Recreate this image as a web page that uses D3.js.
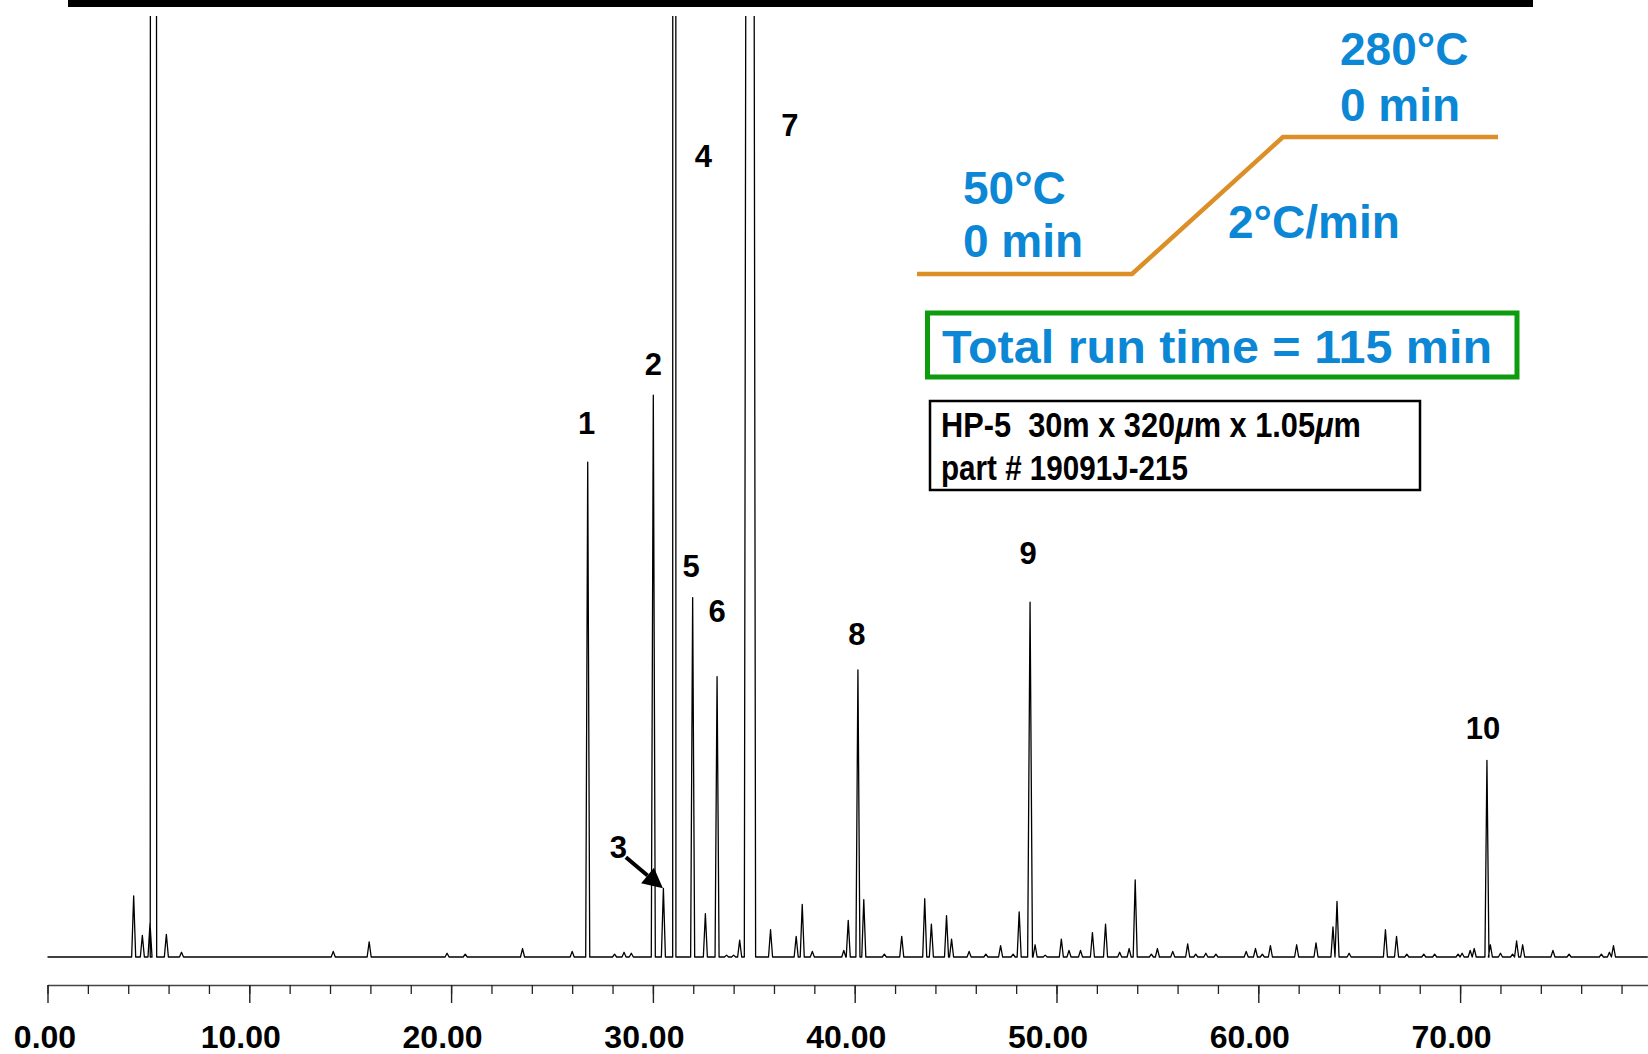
<!DOCTYPE html>
<html>
<head>
<meta charset="utf-8">
<script src="https://cdn.jsdelivr.net/npm/d3@7"></script>
<style>
  html, body { margin: 0; padding: 0; background: #fff; }
  svg { display: block; }
</style>
</head>
<body>
<svg id="chart" width="1648" height="1054"></svg>
<script>
// Chromatogram data: retention time (min), abundance (1000 = top of frame)

// numbered peaks that stay on scale
const labelNames   = ['1', '2', '3', '5', '6', '8', '9', '10'];
const labelTimes   = [26.77, 30.02, 30.52, 31.97, 33.18, 40.16, 48.69, 71.33];
const labelHeights = [526, 597, 73, 382, 298, 305, 377, 209];

// off-scale peaks: solvent, 4, 7
const bigNames   = ['', '4', '7'];
const bigTimes   = [5.25, 31.06, 34.81];
const bigHeights = [20000, 20000, 4000];
const bigWidths  = [0.16, 0.08, 0.28];

// small unlabeled peaks
const minorTimes = [4.27, 4.70, 5.08, 5.89, 6.64, 14.16, 15.94, 19.80, 20.70, 23.54,
  26.00, 28.10, 28.57, 28.93, 32.60, 33.65, 34.00, 34.30, 35.83, 37.10,
  37.40, 37.90, 39.46, 39.68, 40.45, 41.47, 42.33, 43.47, 43.80, 44.55,
  44.80, 45.67, 46.50, 47.23, 47.85, 48.15, 48.94, 49.44, 50.24, 50.62,
  51.19, 51.78, 52.43, 53.13, 53.60, 53.90, 54.70, 55.00, 55.76, 56.50,
  56.90, 57.40, 57.90, 59.40, 59.86, 60.20, 60.60, 61.90, 62.86, 63.70,
  63.90, 64.50, 66.30, 66.85, 67.36, 68.20, 68.74, 69.90, 70.10, 70.50,
  70.70, 71.50, 72.00, 72.60, 72.80, 73.10, 74.60, 75.40, 77.00, 77.40, 77.60];
const minorHeights = [65, 23, 36, 24, 5, 6, 16, 4, 3, 9,
  6, 3, 5, 4, 46, 2, 2, 18, 29, 22,
  56, 6, 7, 39, 61, 3, 22, 62, 35, 44,
  19, 6, 3, 12, 3, 48, 13, 2, 19, 7,
  7, 26, 35, 5, 9, 82, 3, 9, 6, 14,
  3, 4, 3, 6, 9, 3, 12, 13, 15, 32,
  59, 4, 29, 22, 3, 3, 3, 3, 4, 7,
  9, 13, 4, 3, 17, 13, 7, 3, 3, 5, 12];

const majorTicks = [0, 10, 20, 30, 40, 50, 60, 70];
const minorTicks = d3.range(0, 80, 2);

const tempText = [['50\u00B0C', '0 min'], ['280\u00B0C', '0 min'], ['2\u00B0C/min']];
const runTimeText = 'Total run time = 115 min';
const columnText = ['HP-5\u00A0\u00A030m x 320', 'm x 1.05', 'm'];
const partText = 'part # 19091J-215';

// layout of peak labels: [dx from peak, dy above peak top]
const labelLayout = {
  '1': [-1, 28], '2': [0, 20], '3': [-45, 30], '5': [-1.5, 21],
  '6': [0, 55], '8': [-1, 25], '9': [-2, 38], '10': [-4, 21]
};
// off-scale labels: [dx from peak, dy below frame top]
const bigLayout = { '4': [29, 151], '7': [40, 120] };

const svg = d3.select('#chart');
const W = 1648, H = 1054;

const x = d3.scaleLinear().domain([0, 79.3]).range([47.5, 47.5 + 79.3 * 20.18]);
const y = d3.scaleLinear().domain([0, 1000]).range([957, 16]);

// top bar
svg.append('rect').attr('x', 68).attr('y', 0).attr('width', 1465).attr('height', 7).attr('fill', '#000');

// build trace
let peaks = [];
labelTimes.forEach((t, i) => peaks.push({ t: t, h: labelHeights[i], w: labelNames[i] === '9' ? 0.12 : 0.1 }));
bigTimes.forEach((t, i) => peaks.push({ t: t, h: bigHeights[i], w: bigWidths[i] }));
minorTimes.forEach((t, i) => peaks.push({ t: t, h: minorHeights[i], w: 0.1 }));
peaks.sort((a, b) => a.t - b.t);

let pts = [[0, 0]];
peaks.forEach(p => {
  pts.push([p.t - p.w, 0]);
  pts.push([p.t, p.h]);
  pts.push([p.t + p.w, 0]);
});
pts.push([79.3, 0]);

svg.append('clipPath').attr('id', 'clip')
  .append('rect').attr('x', 0).attr('y', y(1000)).attr('width', W).attr('height', y(0) - y(1000) + 10);

const line = d3.line().x(d => x(d[0])).y(d => y(d[1]));

svg.append('path')
  .datum(pts)
  .attr('clip-path', 'url(#clip)')
  .attr('fill', 'none')
  .attr('stroke', '#000')
  .attr('stroke-width', 1.3)
  .attr('stroke-linejoin', 'round')
  .attr('d', line);

// axis
const axisY = 985;
const gMinor = svg.append('g').attr('transform', 'translate(0,' + axisY + ')')
  .call(d3.axisBottom(x).tickValues(minorTicks).tickSize(9).tickSizeOuter(0).tickFormat(''));
gMinor.select('.domain').attr('stroke', '#444').attr('stroke-width', 1.6);
gMinor.selectAll('.tick line').attr('stroke', '#222').attr('stroke-width', 1.3);

const gMajor = svg.append('g').attr('transform', 'translate(0,' + axisY + ')')
  .call(d3.axisBottom(x).tickValues(majorTicks).tickSize(18).tickFormat(d3.format('.2f')));
gMajor.select('.domain').remove();
gMajor.selectAll('.tick line').attr('stroke', '#222').attr('stroke-width', 1.4);
gMajor.selectAll('.tick text')
  .attr('y', 63).attr('dy', null)
  .attr('x', d => d === 0 ? -3 : -9)
  .attr('fill', '#000')
  .style('font-family', '"Liberation Sans", Arial, sans-serif')
  .style('font-weight', 'bold')
  .style('font-size', '32px');

// peak labels
const labelFont = '"Liberation Sans", Arial, sans-serif';
labelNames.forEach((n, i) => {
  const off = labelLayout[n];
  svg.append('text')
    .attr('x', x(labelTimes[i]) + off[0])
    .attr('y', y(labelHeights[i]) - off[1])
    .attr('text-anchor', 'middle')
    .style('font-family', labelFont).style('font-weight', 'bold').style('font-size', '31px')
    .text(n);
});
bigNames.forEach((n, i) => {
  if (!n) return;
  const off = bigLayout[n];
  svg.append('text')
    .attr('x', x(bigTimes[i]) + off[0])
    .attr('y', y(1000) + off[1])
    .attr('text-anchor', 'middle')
    .style('font-family', labelFont).style('font-weight', 'bold').style('font-size', '31px')
    .text(n);
});

// arrow to peak 3
const i3 = labelNames.indexOf('3');
const tip = [x(labelTimes[i3]) - 0.5, y(labelHeights[i3])];
const tail = [tip[0] - 37, tip[1] - 31];
const ang = Math.atan2(tip[1] - tail[1], tip[0] - tail[0]);
const headLen = 20, headW = 10;
const base = [tip[0] - headLen * Math.cos(ang), tip[1] - headLen * Math.sin(ang)];
svg.append('line')
  .attr('x1', tail[0]).attr('y1', tail[1]).attr('x2', base[0]).attr('y2', base[1])
  .attr('stroke', '#000').attr('stroke-width', 4);
svg.append('path')
  .attr('d', d3.line()([
    tip,
    [base[0] + headW * Math.sin(ang), base[1] - headW * Math.cos(ang)],
    [base[0] - headW * Math.sin(ang), base[1] + headW * Math.cos(ang)]
  ]) + 'Z')
  .attr('fill', '#000');

// oven program
const blue = '#0B87D5';
const prog = [[917, 274], [1132, 274], [1283, 137], [1498, 137]];
svg.append('path')
  .attr('d', d3.line()(prog))
  .attr('fill', 'none').attr('stroke', '#DB8F26').attr('stroke-width', 4.5);

function blueText(str, px, py) {
  svg.append('text').attr('x', px).attr('y', py)
    .attr('fill', blue)
    .style('font-family', labelFont).style('font-weight', 'bold').style('font-size', '46px')
    .text(str);
}
blueText(tempText[0][0], 963, 204);
blueText(tempText[0][1], 963, 257);
blueText(tempText[1][0], 1340, 65);
blueText(tempText[1][1], 1340, 121);
blueText(tempText[2][0], 1228, 238);

// run time box
svg.append('rect').attr('x', 927.5).attr('y', 313).attr('width', 589.5).attr('height', 64)
  .attr('fill', 'none').attr('stroke', '#0E9B0E').attr('stroke-width', 5);
svg.append('text').attr('x', 942).attr('y', 362.5)
  .attr('fill', blue)
  .attr('textLength', 550).attr('lengthAdjust', 'spacingAndGlyphs')
  .style('font-family', labelFont).style('font-weight', 'bold').style('font-size', '47px')
  .text(runTimeText);

// column box (condensed text: squeeze horizontally to the reference width)
svg.append('rect').attr('x', 930).attr('y', 401).attr('width', 490).attr('height', 89)
  .attr('fill', 'none').attr('stroke', '#000').attr('stroke-width', 2.5);

function squeezed(px, py, targetWidth) {
  const t = svg.append('text').attr('x', 0).attr('y', 0)
    .style('font-family', labelFont).style('font-weight', 'bold').style('font-size', '35px');
  return { node: t, fit: () => {
    const w = t.node().getComputedTextLength();
    t.attr('transform', 'translate(' + px + ',' + py + ') scale(' + (targetWidth / w) + ',1)');
  } };
}
const col = squeezed(941, 437, 420);
col.node.append('tspan').text(columnText[0]);
col.node.append('tspan').style('font-style', 'italic').text('\u03BC');
col.node.append('tspan').text(columnText[1]);
col.node.append('tspan').style('font-style', 'italic').text('\u03BC');
col.node.append('tspan').text(columnText[2]);
col.fit();

const part = squeezed(941, 480, 247);
part.node.text(partText);
part.fit();
</script>
</body>
</html>
